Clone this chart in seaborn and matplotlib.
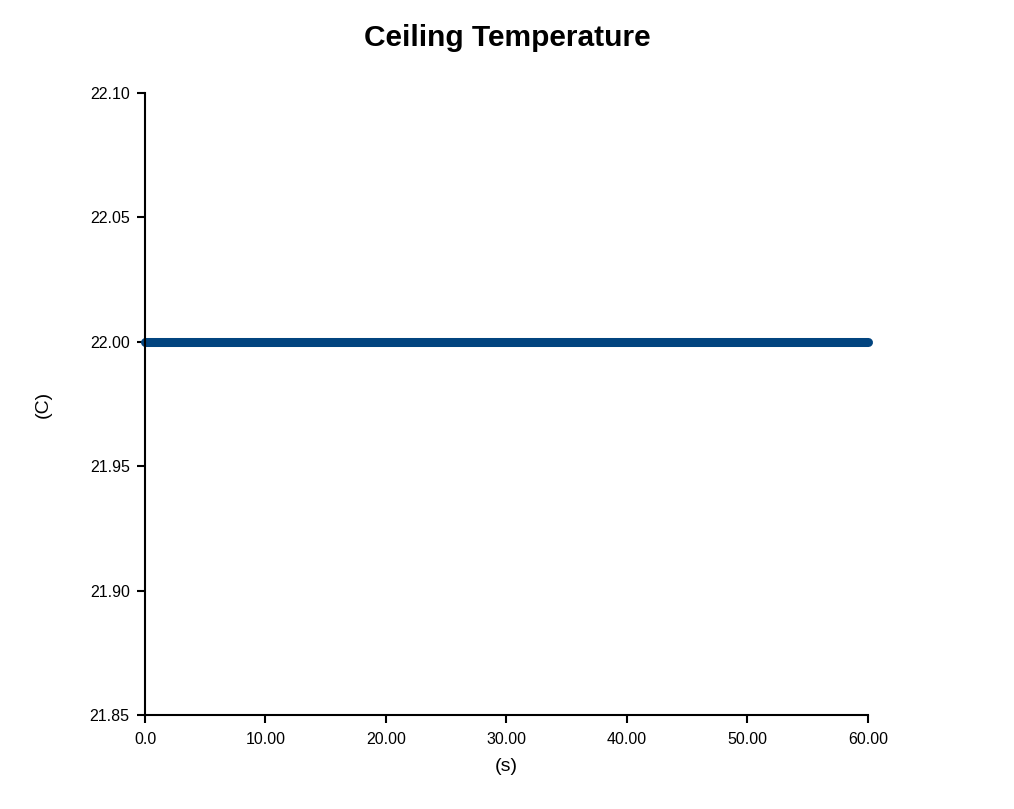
import seaborn as sns
import matplotlib.pyplot as plt
import pandas as pd

# Dados
time_s = [0.0, 10.0, 20.0, 30.0, 40.0, 50.0, 60.0]
temp_c = [22.0, 22.0, 22.0, 22.0, 22.0, 22.0, 22.0]
x_ticks = [0.0, 10.0, 20.0, 30.0, 40.0, 50.0, 60.0]
x_tick_labels = ['0.0', '10.00', '20.00', '30.00', '40.00', '50.00', '60.00']
y_ticks = [21.85, 21.90, 21.95, 22.00, 22.05, 22.10]

df = pd.DataFrame({'time': time_s, 'temp': temp_c})

sns.set_style('ticks')
plt.rcParams['font.family'] = ['Liberation Sans', 'DejaVu Sans']
plt.rcParams['text.color'] = 'black'
plt.rcParams['axes.labelcolor'] = 'black'

fig = plt.figure(figsize=(10.14, 8.09), dpi=100)
ax = fig.add_axes([0.143, 0.116, 0.713, 0.769])

sns.lineplot(data=df, x='time', y='temp', ax=ax, color='#02447F',
             linewidth=6.5, solid_capstyle='round')

ax.set_xlim(0, 60)
ax.set_ylim(21.85, 22.10)
ax.set_xticks(x_ticks)
ax.set_xticklabels(x_tick_labels)
ax.set_yticks(y_ticks)
ax.set_yticklabels([f'{v:.2f}' for v in y_ticks])
for line in ax.lines:
    line.set_clip_on(False)

sns.despine(ax=ax)
for s in ['left', 'bottom']:
    ax.spines[s].set_linewidth(1.5)
    ax.spines[s].set_color('black')
ax.tick_params(axis='both', direction='out', length=6, width=1.5,
               labelsize=11.5, colors='black')
ax.tick_params(axis='x', pad=6)
ax.tick_params(axis='y', pad=5)

ax.set_xlabel('(s)', fontsize=14, labelpad=8)
ax.set_ylabel('(C)', fontsize=14, labelpad=27)
fig.suptitle('Ceiling Temperature', fontsize=21.5, fontweight='bold', y=0.97)

plt.savefig('out.png', dpi=100)
